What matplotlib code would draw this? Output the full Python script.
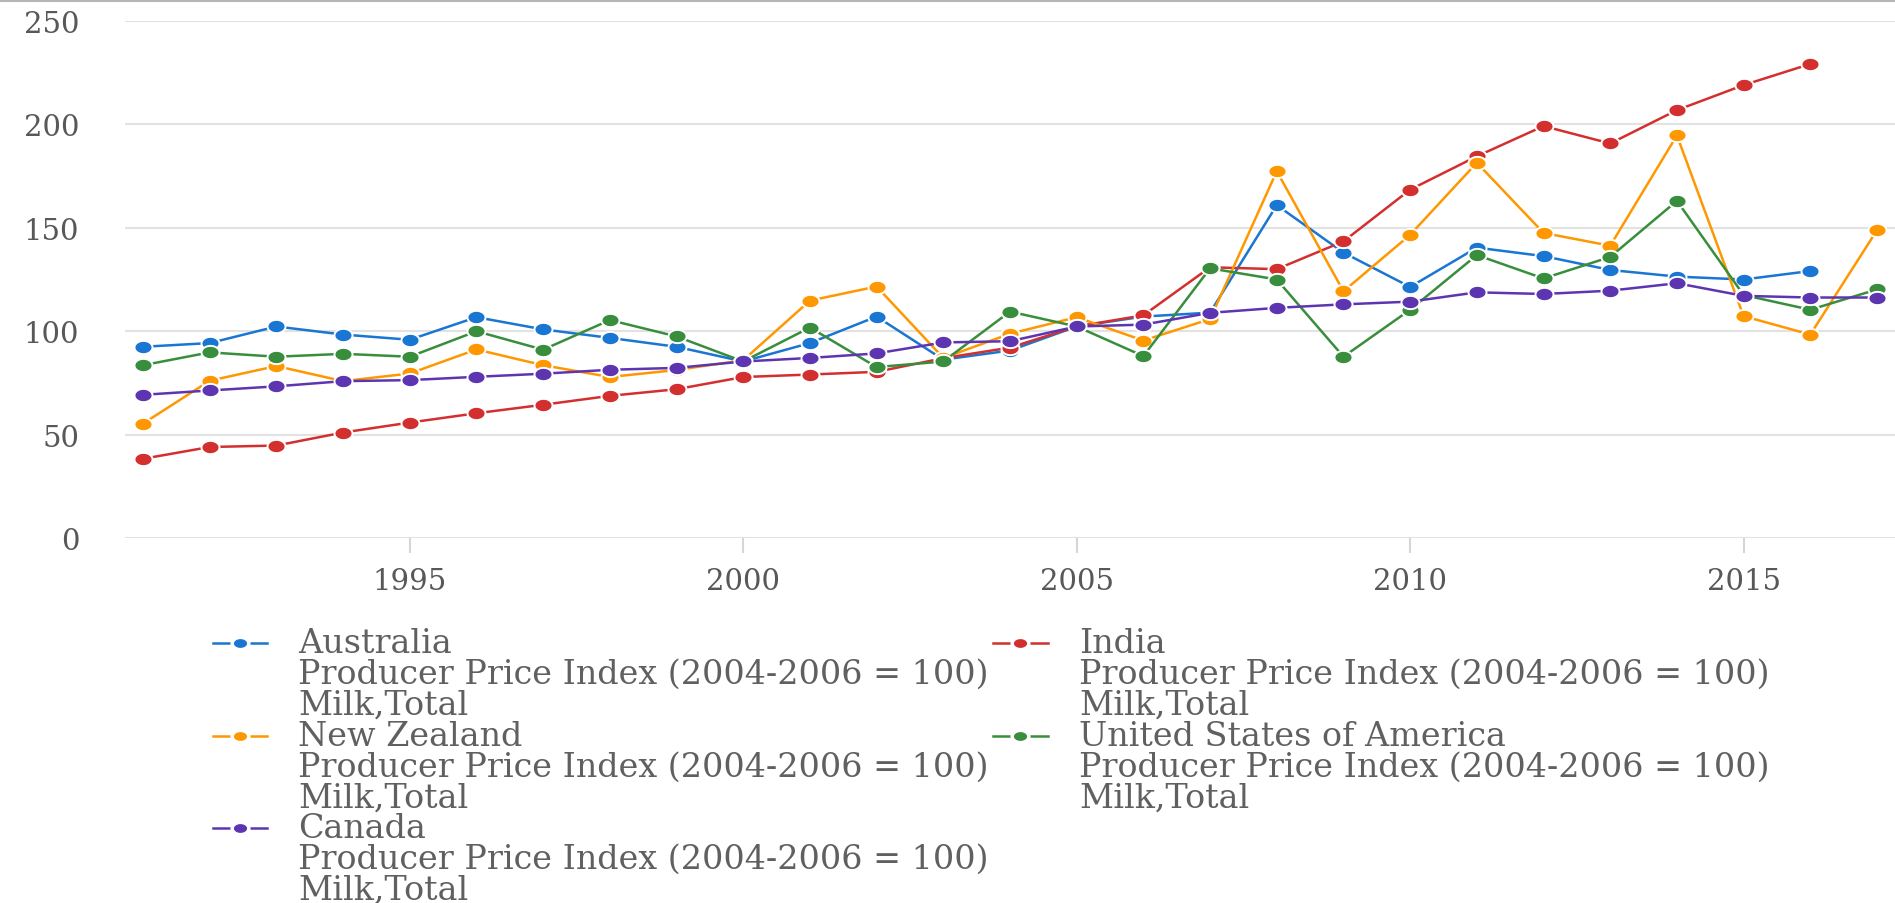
import numpy as np
import matplotlib
matplotlib.use("Agg")
import matplotlib.pyplot as plt
from matplotlib.path import Path
from matplotlib.lines import Line2D

years = list(range(1991, 2018))
nan = float("nan")

australia = [92.5, 94.3, 102.3, 98.4, 95.9, 106.8, 100.9, 96.8, 92.5, 85.4,
             94.3, 107.1, 86.3, 90.7, 102.3, 107.1, 109.0, 160.9, 138.0, 121.4,
             140.4, 136.3, 129.6, 126.4, 125.0, 129.1, nan]
india = [38.4, 44.1, 44.8, 51.1, 55.9, 60.4, 64.5, 68.8, 72.0, 77.9,
         79.1, 80.4, 87.0, 92.1, 102.3, 107.7, 130.9, 130.0, 143.4, 168.4,
         184.5, 199.1, 190.7, 206.8, 218.9, 229.1, nan]
new_zealand = [55.4, 76.1, 83.2, 75.9, 79.6, 91.2, 83.6, 77.9, 81.3, 86.0,
               114.8, 121.6, 87.1, 98.8, 106.8, 95.5, 105.9, 177.3, 119.3, 146.6,
               181.4, 147.5, 141.3, 194.6, 107.3, 98.4, 148.8]
usa = [83.6, 89.8, 87.7, 89.1, 87.7, 100.0, 91.1, 105.4, 97.5, 85.4,
       101.8, 82.7, 85.4, 109.5, 102.3, 88.0, 130.4, 125.0, 87.7, 110.4,
       136.8, 125.5, 135.9, 163.0, 117.5, 110.4, 120.2]
canada = [69.3, 71.4, 73.4, 75.9, 76.4, 78.0, 79.5, 81.4, 82.3, 85.4,
          87.1, 89.3, 94.6, 95.2, 102.3, 103.2, 108.9, 111.3, 113.0, 114.3,
          118.8, 118.0, 119.6, 123.2, 117.1, 116.3, 116.3]

countries = ["Australia", "India", "New Zealand", "United States of America", "Canada"]
series = [australia, india, new_zealand, usa, canada]
colors = ["#1976d2", "#d32f2f", "#ff9800", "#388e3c", "#5e35b1"]
subtitle = "Producer Price Index (2004-2006 = 100)"
item = "Milk,Total"

yticks = [0, 50, 100, 150, 200, 250]
xticks = [1995, 2000, 2005, 2010, 2015]

plt.rcParams["font.family"] = ["DejaVu Serif"]

W, H = 1895, 904
fig = plt.figure(figsize=(W / 100, H / 100), dpi=100)

# ellipse marker (reference is horizontally stretched)
t = np.linspace(0, 2 * np.pi, 60)
ell = Path(np.column_stack([1.36 * np.cos(t), np.sin(t)]), closed=True)

ax_l, ax_r = 125 / W, 1.0
ax_top, ax_bot = 21.7, 539.3
ax = fig.add_axes([ax_l, 1 - ax_bot / H, ax_r - ax_l, (ax_bot - ax_top) / H])

for vals, c in zip(series, colors):
    ax.plot(years, vals, color=c, lw=1.8, marker=ell, ms=13, mfc=c,
            mec="white", mew=1.4, clip_on=False, zorder=3)

ax.set_xlim(1990.73, 2017.27)
ax.set_ylim(0, 250)
ax.set_yticks(yticks)
ax.set_xticks(xticks)
ax.grid(axis="y", color="#e2e2e2", lw=1.5)
ax.set_axisbelow(True)
for s in ax.spines.values():
    s.set_visible(False)
ax.tick_params(axis="y", length=0, pad=33, labelsize=21, labelcolor="#585858")
ax.tick_params(axis="x", length=11, width=1.5, color="#d6d6d6", pad=10,
               labelsize=21, labelcolor="#585858")

# top border
fig.add_artist(Line2D([0, 1], [1 - 1.2 / H, 1 - 1.2 / H], color="#b5b5b5", lw=2.2))

# legend (manual, two columns)
row_y0 = 644
line_dy = 30.9
block_dy = 92.6
col_marker = [(213, 267, 240), (993, 1048, 1020)]
col_text = [298, 1079]
positions = [(0, 0), (1, 0), (0, 1), (1, 1), (0, 2)]
for (col, row), name, c in zip(positions, countries, colors):
    y0 = row_y0 + row * block_dy
    x1, x2, xd = col_marker[col]
    fy = 1 - y0 / H
    fig.add_artist(Line2D([x1 / W, x2 / W], [fy, fy], color=c, lw=1.8))
    fig.add_artist(Line2D([xd / W], [fy], color=c, marker=ell, ms=12,
                          mfc=c, mec="white", mew=2.5, lw=0))
    for k, txt in enumerate([name, subtitle, item]):
        yy = y0 + k * line_dy
        fig.text(col_text[col] / W, 1 - yy / H, txt, fontsize=24, color="#606060",
                 ha="left", va="center")

fig.savefig("out.png", dpi=100, facecolor="white")
